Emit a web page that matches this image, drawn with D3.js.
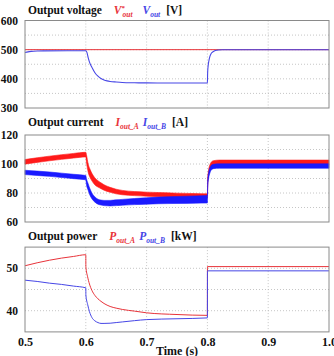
<!DOCTYPE html>
<html><head><meta charset="utf-8">
<script src="https://cdn.jsdelivr.net/npm/d3@7"></script>
<style>
html,body{margin:0;padding:0;background:#fff;}
svg{display:block;}
</style></head>
<body><svg id="c" width="334" height="356"></svg>
<script>
// ---------- data ----------
const timeTicks = [0.5, 0.6, 0.7, 0.8, 0.9, 1.0];
const timeTickLabels = ["0.5", "0.6", "0.7", "0.8", "0.9", "1.0"];

// Panel 1: output voltage [V]
const tVref = [0.5, 1.0];
const vRef = [500, 500];
const tV = [0.5, 0.505, 0.51, 0.52, 0.53, 0.6, 0.602, 0.604, 0.607, 0.61, 0.615, 0.62, 0.625, 0.63, 0.635, 0.64, 0.65, 0.66, 0.68, 0.7, 0.75, 0.8, 0.8004, 0.801, 0.8025, 0.804, 0.806, 0.808, 0.81, 0.813, 0.818, 0.825, 1.0];
const vOut = [490, 492.5, 494, 495.5, 496, 496.5, 490, 472, 452, 440, 421, 409, 401, 396, 393, 391, 389, 387.5, 386.5, 386, 385.5, 385.5, 420, 440, 462, 476, 486, 491, 494, 497, 499, 499.5, 499.5];
const vTicks = [300, 400, 500, 600];
const vGrid = [350, 400, 450, 500, 550];

// Panel 2: output current [A] (centre values and ripple half-width)
const tI = [0.5, 0.52, 0.54, 0.56, 0.58, 0.6, 0.601, 0.604, 0.607, 0.61, 0.615, 0.62, 0.625, 0.63, 0.64, 0.65, 0.66, 0.68, 0.7, 0.72, 0.75, 0.78, 0.8, 0.8005, 0.802, 0.804, 0.806, 0.81, 0.82, 1.0];
const iA = [101.5, 102.7, 103.8, 104.8, 105.7, 106.5, 104, 97, 93.5, 91, 88, 86.3, 85, 83.8, 82.2, 81, 80.3, 79.6, 79.2, 78.9, 78.5, 78.2, 78, 88, 94, 97.5, 99.5, 100.8, 101.2, 101.2];
const iB = [94.2, 93.6, 93, 92.2, 91.4, 90.6, 88, 84, 80.5, 78, 75.5, 74, 73.4, 73.1, 73, 73.3, 73.6, 74.1, 74.5, 74.9, 75.2, 75.5, 75.7, 86, 92, 95.5, 97.3, 98.3, 98.6, 98.6];
const rippleA = [1.6, 1.6, 1.6, 1.6, 1.6, 1.6, 2.5, 2.8, 2.8, 2.6, 2.4, 2.2, 2.0, 1.9, 1.7, 1.6, 1.5, 1.4, 1.4, 1.4, 1.4, 1.4, 1.4, 2.0, 2.0, 1.8, 1.6, 1.5, 1.5, 1.5];
const rippleB = [1.5, 1.5, 1.5, 1.5, 1.5, 1.5, 2.0, 2.2, 2.2, 2.0, 1.8, 1.7, 1.7, 1.8, 1.9, 2.0, 2.0, 2.1, 2.2, 2.3, 2.4, 2.5, 2.6, 2.0, 2.0, 1.8, 1.6, 1.5, 1.5, 1.5];
const iTicks = [60, 80, 100, 120];
const iGrid = [70, 80, 90, 100, 110];

// Panel 3: output power [kW]
const tP = [0.5, 0.52, 0.54, 0.56, 0.58, 0.6, 0.6001, 0.603, 0.606, 0.61, 0.615, 0.62, 0.625, 0.63, 0.64, 0.65, 0.66, 0.68, 0.7, 0.75, 0.8, 0.8001, 1.0];
const pA = [50.6, 51.3, 51.9, 52.4, 52.8, 53.2, 50.4, 48.0, 46.3, 44.8, 43.6, 42.8, 42.2, 41.7, 41.0, 40.6, 40.3, 39.9, 39.5, 39.1, 38.9, 50.4, 50.4];
const pB = [47.2, 46.9, 46.5, 46.2, 45.8, 45.4, 43.7, 41.5, 39.8, 38.4, 37.6, 37.2, 37.0, 37.0, 37.05, 37.2, 37.35, 37.65, 37.9, 38.1, 38.3, 49.4, 49.4];
const pTicks = [40, 50];
const pGrid = [40, 45, 50];

// ---------- drawing ----------
const FONT = '"Liberation Serif", "Times New Roman", Times, serif';
const svg = d3.select("#c");
const L = 25, R = 329;
const x = d3.scaleLinear().domain([0.5, 1.0]).range([L, R]);

const RED = "#e8333a", BLUE = "#4646e6";
const BAND_RED = "#ff1a1a", BAND_BLUE = "#1a1aff";

function styleText(sel, size) {
  sel.attr("font-size", size).style("font-family", FONT).style("font-weight", "bold").attr("fill", "#111");
}

function panel(yDomain, yRange, ticks, grid) {
  const y = d3.scaleLinear().domain(yDomain).range(yRange);
  const g = svg.append("g");
  g.selectAll(".hg").data(grid).join("line")
    .attr("x1", L).attr("x2", R).attr("y1", d => y(d)).attr("y2", d => y(d))
    .attr("stroke", "#b8b8b8").attr("stroke-width", 0.8).attr("stroke-dasharray", "1,2");
  g.selectAll(".vg").data(timeTicks.slice(1, -1)).join("line")
    .attr("x1", d => x(d)).attr("x2", d => x(d)).attr("y1", yRange[1]).attr("y2", yRange[0])
    .attr("stroke", "#b8b8b8").attr("stroke-width", 0.8).attr("stroke-dasharray", "1,2");
  const ax = d3.axisLeft(y).tickValues(ticks).tickSize(0).tickPadding(7).tickFormat(d3.format("d"));
  const ag = svg.append("g").attr("transform", `translate(${L},0)`).call(ax);
  ag.select(".domain").remove();
  styleText(ag.selectAll("text"), 11.5);
  return {y, g};
}

function frame(yRange) {
  svg.append("rect").attr("x", L).attr("y", yRange[1]).attr("width", R - L).attr("height", yRange[0] - yRange[1])
    .attr("fill", "none").attr("stroke", "#8a8a8a").attr("stroke-width", 1);
}

function title(yPos, main, items) {
  const t = svg.append("text").attr("x", 28).attr("y", yPos);
  styleText(t, 11.5);
  t.append("tspan").text(main);
  let off = 0; // current baseline offset
  items.forEach(it => {
    t.append("tspan").attr("dx", it.dx).attr("dy", -off).attr("fill", it.color || "#111")
      .style("font-style", it.color ? "italic" : "normal").attr("font-size", 11.5).text(it.base);
    off = 0;
    if (it.sup) {
      t.append("tspan").attr("fill", it.color).attr("font-size", 7).attr("dy", -4).text(it.sup);
      off = -4;
    }
    if (it.sub) {
      t.append("tspan").attr("fill", it.color).style("font-style", "italic").attr("font-size", 7.5)
        .attr("dx", it.sup ? -2.5 : 0).attr("dy", 3 - off).text(it.sub);
      off = 3;
    }
  });
}

// Panel 1
const p1 = panel([300, 600], [108, 20.5], vTicks, vGrid);
const line1 = d3.line().x(d => x(d[0])).y(d => p1.y(d[1]));
p1.g.append("path").datum(d3.zip(tVref, vRef)).attr("d", line1).attr("fill", "none").attr("stroke", RED).attr("stroke-width", 1);
p1.g.append("path").datum(d3.zip(tV, vOut)).attr("d", line1.curve(d3.curveMonotoneX)).attr("fill", "none").attr("stroke", BLUE).attr("stroke-width", 1.1);
frame([108, 20.5]);
title(14, "Output voltage", [
  {dx: 12, base: "V", sup: "*", sub: "out", color: RED},
  {dx: 10, base: "V", sub: "out", color: BLUE},
  {dx: 6, base: "[V]", color: null}
]);

// Panel 2
const p2 = panel([60, 120], [222, 135], iTicks, iGrid);
function band(t, c, r, color) {
  const area = d3.area().curve(d3.curveMonotoneX)
    .x(d => x(d[0])).y0(d => p2.y(d[1] - d[2])).y1(d => p2.y(d[1] + d[2]));
  p2.g.append("path").datum(d3.zip(t, c, r)).attr("d", area).attr("fill", color).attr("stroke", color).attr("stroke-width", 0.6);
}
band(tI, iA, rippleA, BAND_RED);
band(tI, iB, rippleB, BAND_BLUE);
frame([222, 135]);
title(126, "Output current", [
  {dx: 12, base: "I", sub: "out_A", color: RED},
  {dx: 4, base: "I", sub: "out_B", color: BLUE},
  {dx: 6, base: "[A]", color: null}
]);

// Panel 3
const p3 = panel([35, 55], [331.9, 247.1], pTicks, pGrid);
const line3 = d3.line().curve(d3.curveMonotoneX).x(d => x(d[0])).y(d => p3.y(d[1]));
p3.g.append("path").datum(d3.zip(tP, pA)).attr("d", line3).attr("fill", "none").attr("stroke", RED).attr("stroke-width", 1);
p3.g.append("path").datum(d3.zip(tP, pB)).attr("d", line3).attr("fill", "none").attr("stroke", BLUE).attr("stroke-width", 1);
frame([331.9, 247.1]);
title(240, "Output power", [
  {dx: 12, base: "P", sub: "out_A", color: RED},
  {dx: 4, base: "P", sub: "out_B", color: BLUE},
  {dx: 6, base: "[kW]", color: null}
]);

// x axis
const xa = d3.axisBottom(x).tickValues(timeTicks).tickSize(0).tickPadding(5)
  .tickFormat((d, i) => timeTickLabels[i]);
const xg = svg.append("g").attr("transform", "translate(0,332)").call(xa);
xg.select(".domain").remove();
styleText(xg.selectAll("text"), 12);

const xt = svg.append("text").attr("x", 177).attr("y", 355).attr("text-anchor", "middle").text("Time (s)");
styleText(xt, 12);
</script></body></html>
